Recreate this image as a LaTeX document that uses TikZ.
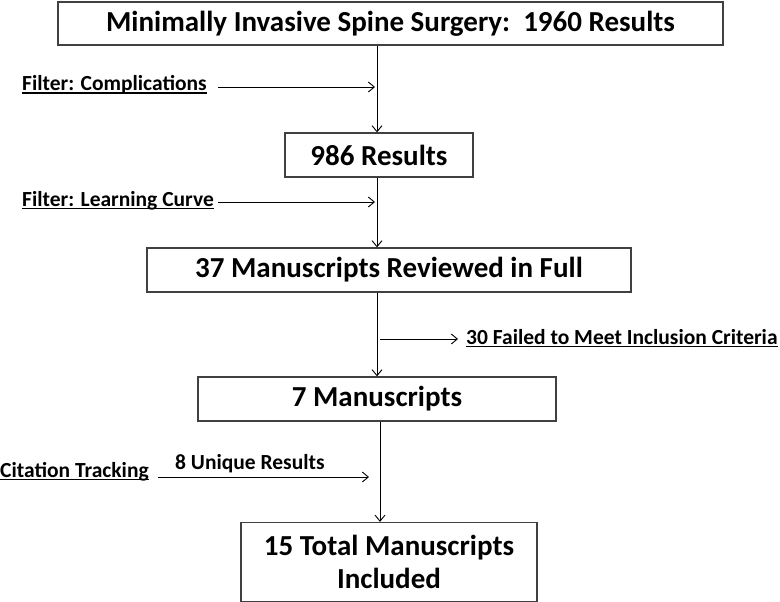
\documentclass[tikz,border=0pt]{standalone}
\usepackage{fontspec}
\setmainfont{Carlito}
\usetikzlibrary{arrows.meta}
\newcommand\myul[1]{\setbox0\hbox{#1}\rlap{\rule[-2.8pt]{\wd0}{1.3pt}}\box0}
\begin{document}
\begin{tikzpicture}[x=1pt,y=-1pt,
  boxnode/.style={draw=black!75,line width=1.3pt,inner sep=0pt,align=center,
    font=\fontsize{29}{33}\selectfont\bfseries},
  lbl/.style={inner sep=0pt,font=\fontsize{21.5}{26}\selectfont\bfseries},
  conn/.style={line width=0.9pt,-{Straight Barb[length=6pt,width=10pt,line width=0.9pt]}}]
\useasboundingbox (0,0) rectangle (780,602);
\node[boxnode,minimum width=665pt,minimum height=43pt] (b1) at (390.5,23.5) {Minimally Invasive Spine Surgery:\ \ 1960 Results};
\node[boxnode,minimum width=188pt,minimum height=44pt] (b2) at (379,155) {986 Results};
\node[boxnode,minimum width=484pt,minimum height=44pt] (b3) at (389,270) {37 Manuscripts Reviewed in Full};
\node[boxnode,minimum width=358pt,minimum height=44pt] (b4) at (377,399) {7 Manuscripts};
\node[boxnode,minimum width=296pt,minimum height=79pt] (b5) at (389,562) {15 Total Manuscripts\\Included};
% spine coordinates
\coordinate (s1) at (377,0);
\coordinate (s2) at (380,0);
\draw[conn] (b1.south -| s1) -- (b2.north -| s1);
\draw[conn] (b2.south -| s1) -- (b3.north -| s1);
\draw[conn] (b3.south -| s1) -- (b4.north -| s1);
\draw[conn] (b4.south -| s2) -- (b5.north -| s2);
% labels
\node[lbl,anchor=base west] (l1) at (22,91) {\myul{Filter: Complications}};
\node[lbl,anchor=base west] (l2) at (22,206) {\myul{Filter: Learning Curve}};
\node[lbl,anchor=base west] (l3) at (466,344) {\myul{30 Failed to Meet Inclusion Criteria}};
\node[lbl,anchor=base west] (l4) at (0,477) {\myul{Citation Tracking}};
\node[lbl,anchor=base west] (l5) at (175,469) {8 Unique Results};
% side arrows
\coordinate (a1s) at (218,87);
\coordinate (a1e) at (375,87);
\coordinate (a2s) at (218,202);
\coordinate (a2e) at (375,202);
\coordinate (a3s) at (380,339);
\coordinate (a3e) at (458,339);
\coordinate (a4s) at (158,477);
\coordinate (a4e) at (369,477);
\draw[conn] (a1s) -- (a1e);
\draw[conn] (a2s) -- (a2e);
\draw[conn] (a3s) -- (a3e);
\draw[conn] (a4s) -- (a4e);
\end{tikzpicture}
\end{document}
